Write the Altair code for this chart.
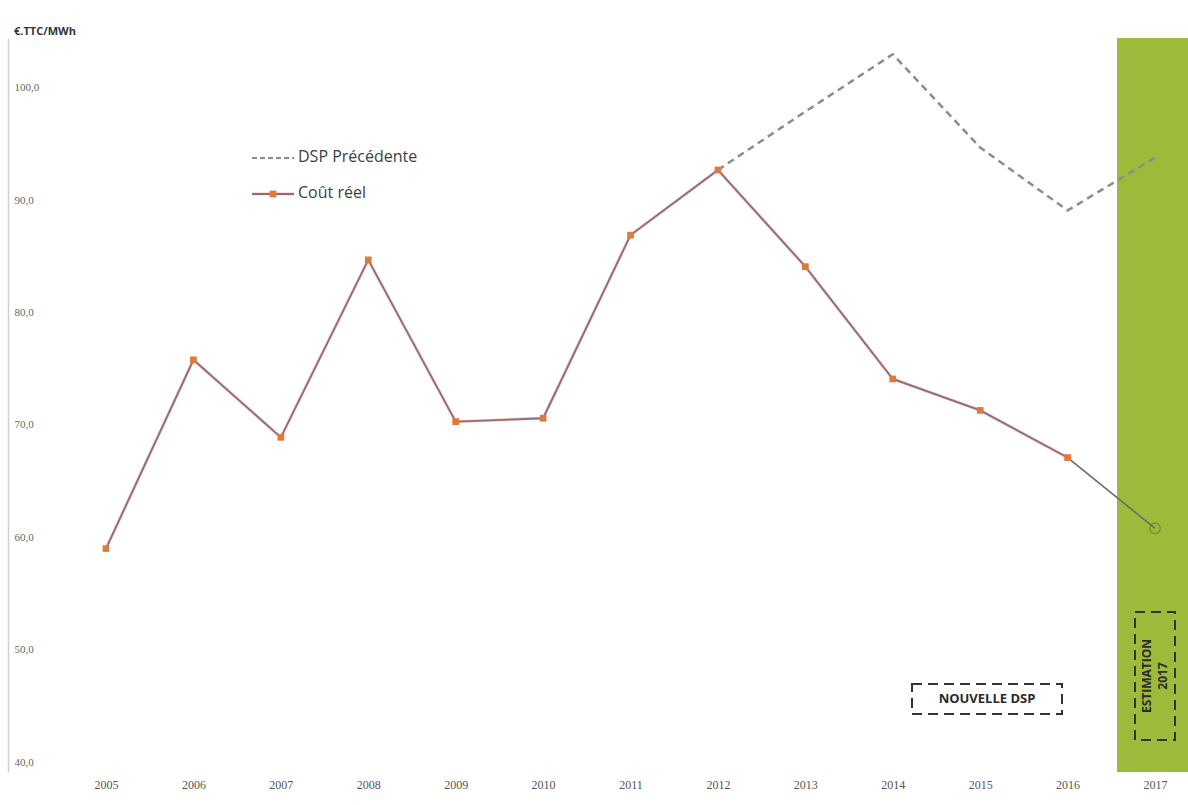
import altair as alt
import pandas as pd

years = [2005, 2006, 2007, 2008, 2009, 2010, 2011, 2012, 2013, 2014, 2015, 2016]
cout_reel = [59.0, 75.8, 68.9, 84.7, 70.3, 70.6, 86.9, 92.7, 84.1, 74.1, 71.3, 67.1]
est_years = [2016, 2017]
est_values = [67.1, 60.8]
dsp_years = [2012, 2013, 2014, 2015, 2016, 2017]
dsp_values = [92.7, 97.9, 103.0, 94.7, 89.1, 93.8]
y_ticks = [40, 50, 60, 70, 80, 90, 100]
x_ticks = [2005, 2006, 2007, 2008, 2009, 2010, 2011, 2012, 2013, 2014, 2015, 2016, 2017]

W, H = 1180, 734
XDOM = [2003.879, 2017.377]
YDOM = [39.11, 104.45]

df_reel = pd.DataFrame({"year": years, "value": cout_reel})
df_est = pd.DataFrame({"year": est_years, "value": est_values})
df_dsp = pd.DataFrame({"year": dsp_years, "value": dsp_values})
df_band = pd.DataFrame({"x1": [2016.565], "x2": [2017.377], "y1": [YDOM[0]], "y2": [YDOM[1]]})
df_last = pd.DataFrame({"year": [2017], "value": [60.8]})

xs = alt.Scale(domain=XDOM, nice=False, zero=False)
ys = alt.Scale(domain=YDOM, nice=False, zero=False)

x_axis = alt.Axis(values=x_ticks, format="d", grid=False, domain=False, ticks=False,
                  labelFont="Liberation Serif", labelFontSize=12, labelColor="#555555",
                  labelPadding=7, title=None, labelFlush=False, labelOverlap=False)
y_axis = alt.Axis(values=y_ticks, grid=False, domain=True, domainColor="#d0d0d0", domainWidth=1.5,
                  ticks=False, labelAlign="left", labelPadding=-6, labelBaseline="middle",
                  labelExpr="replace(format(datum.value, '.1f'), '.', ',')",
                  labelFont="Liberation Serif", labelFontSize=11, labelColor="#666666", title=None,
                  labelFlush=False, labelOverlap=False)

X = alt.X("year:Q", scale=xs, axis=x_axis)
Y = alt.Y("value:Q", scale=ys, axis=y_axis)

band = alt.Chart(df_band).mark_rect(color="#9DBB3B").encode(
    x=alt.X("x1:Q", scale=xs, axis=x_axis),
    x2="x2:Q",
    y=alt.Y("y1:Q", scale=ys, axis=y_axis),
    y2="y2:Q",
)

dsp = alt.Chart(df_dsp).mark_line(color="#8c8c8c", strokeWidth=2.5, strokeDash=[7, 5]).encode(x=X, y=Y)

reel_under = alt.Chart(df_reel).mark_line(color="#F2A868", strokeWidth=3.0, opacity=0.6).encode(x=X, y=Y)
reel = alt.Chart(df_reel).mark_line(color="#8E6A8C", strokeWidth=1.8).encode(x=X, y=Y)
est_line = alt.Chart(df_est).mark_line(color="#6F6A6A", strokeWidth=1.6).encode(x=X, y=Y)
markers = alt.Chart(df_reel).mark_square(color="#E07A3C", size=45, opacity=1).encode(x=X, y=Y)
last = alt.Chart(df_last).mark_point(shape="circle", filled=False, color="#5f7a28", size=110,
                                     strokeWidth=1.3).encode(x=X, y=Y)

# y-axis unit title
unit = alt.Chart(df_last).mark_text(text="€.TTC/MWh", align="left", baseline="middle",
                                    font="Open Sans", fontSize=11, fontWeight="bold",
                                    color="#333333").encode(x=alt.value(6), y=alt.value(-6))

# manual legend
leg_dash = alt.Chart(df_last).mark_rule(color="#8c8c8c", strokeWidth=2, strokeDash=[5, 3]).encode(
    x=alt.value(244), x2=alt.value(286), y=alt.value(120))
leg_dsp_txt = alt.Chart(df_last).mark_text(text="DSP Précédente", align="left", baseline="middle",
                                           font="Open Sans", fontSize=16, color="#404040").encode(
    x=alt.value(290), y=alt.value(119))
leg_line_u = alt.Chart(df_last).mark_rule(color="#F2A868", strokeWidth=3, opacity=0.6).encode(
    x=alt.value(244), x2=alt.value(286), y=alt.value(156))
leg_line = alt.Chart(df_last).mark_rule(color="#8E6A8C", strokeWidth=1.8).encode(
    x=alt.value(244), x2=alt.value(286), y=alt.value(156))
leg_mark = alt.Chart(df_last).mark_square(color="#E07A3C", size=45, opacity=1).encode(
    x=alt.value(265), y=alt.value(156))
leg_reel_txt = alt.Chart(df_last).mark_text(text="Coût réel", align="left", baseline="middle",
                                            font="Open Sans", fontSize=16, color="#404040").encode(
    x=alt.value(290), y=alt.value(155))

# "NOUVELLE DSP" dashed box
box1 = alt.Chart(df_last).mark_rect(fill=None, stroke="#333333", strokeWidth=2, strokeDash=[10, 6]).encode(
    x=alt.value(904), x2=alt.value(1054), y=alt.value(646), y2=alt.value(676))
box1_txt = alt.Chart(df_last).mark_text(text="NOUVELLE DSP", align="center", baseline="middle",
                                        font="Open Sans", fontSize=13, fontWeight="bold",
                                        color="#2a2a2a").encode(x=alt.value(979), y=alt.value(661))

# "ESTIMATION 2017" vertical dashed box
box2 = alt.Chart(df_last).mark_rect(fill=None, stroke="#333333", strokeWidth=2, strokeDash=[10, 6]).encode(
    x=alt.value(1127), x2=alt.value(1167), y=alt.value(574), y2=alt.value(702))
box2_txt1 = alt.Chart(df_last).mark_text(text="ESTIMATION", align="center", baseline="middle", angle=270,
                                         font="Open Sans", fontSize=12, fontWeight="bold",
                                         color="#2a2a2a").encode(x=alt.value(1139), y=alt.value(638))
box2_txt2 = alt.Chart(df_last).mark_text(text="2017", align="center", baseline="middle", angle=270,
                                         font="Open Sans", fontSize=12, fontWeight="bold",
                                         color="#2a2a2a").encode(x=alt.value(1155), y=alt.value(638))

chart = alt.layer(
    band, dsp, reel_under, reel, est_line, markers, last,
    unit, leg_dash, leg_dsp_txt, leg_line_u, leg_line, leg_mark, leg_reel_txt,
    box1, box1_txt, box2, box2_txt1, box2_txt2,
).properties(
    width=W, height=H,
    background="white",
    autosize=alt.AutoSizeParams(type="none"),
    padding={"left": 8, "top": 38, "right": 0, "bottom": 33},
).configure_view(strokeWidth=0, stroke=None)

chart.save("out.html", embed_options={"renderer": "svg", "actions": False})
